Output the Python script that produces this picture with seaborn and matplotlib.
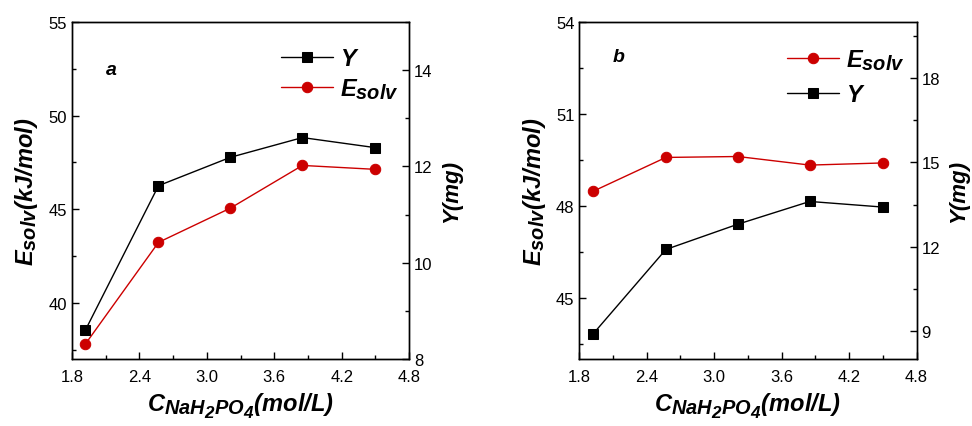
import matplotlib
matplotlib.use('Agg')
import matplotlib.pyplot as plt
import matplotlib._mathtext as mathtext_core
import numpy             as np
import pandas            as pd
import seaborn           as sns
from matplotlib.ticker import MultipleLocator, FormatStrFormatter

# Nong do NaH2PO4 (mol/L)
conc = [1.92, 2.57, 3.21, 3.85, 4.50]

# Panel a
esolv_a = [37.8, 43.23, 45.06, 47.34, 47.13]
yield_a = [8.60, 11.60, 12.19, 12.60, 12.39]

# Panel b
esolv_b = [48.47, 49.58, 49.61, 49.33, 49.40]
yield_b = [8.88, 11.90, 12.80, 13.61, 13.41]

RED   = '#CC0000'
BLACK = '#000000'

sns.set_style('ticks')
plt.rcParams['font.family'] = ['Liberation Sans', 'DejaVu Sans']
plt.rcParams['mathtext.fontset'] = 'custom'
plt.rcParams['mathtext.it'] = 'Liberation Sans:bold:italic'
plt.rcParams['mathtext.rm'] = 'Liberation Sans:bold:italic'
plt.rcParams['mathtext.bf'] = 'Liberation Sans:bold:italic'
for key in ('text.color', 'axes.labelcolor', 'xtick.color', 'ytick.color'):
    plt.rcParams[key] = 'black'
# chi so duoi lon hon (giong Origin)
mathtext_core.SHRINK_FACTOR = 0.85

fig = plt.figure(figsize = (9.72, 4.27), dpi = 100)
ax_a = fig.add_axes([0.074, 0.157, 0.347, 0.789])
ax_b = fig.add_axes([0.596, 0.157, 0.347, 0.789])

lab_font = dict(fontsize = 17, fontweight = 'bold', fontstyle = 'italic')


def panel(ax, esolv, yld, ylim_l, ylim_r, step_l, step_r, letter, lpos, order, lx, ly, lsp):
    ax2 = ax.twinx()
    df = pd.DataFrame({'c': conc, 'E': esolv, 'Y': yld})

    sns.lineplot(data = df, x = 'c', y = 'E', ax = ax, color = RED, marker = 'o',
                 markersize = 7.5, markeredgecolor = RED, linewidth = 1.0,
                 label = r'$E_{solv}$', legend = False)
    sns.lineplot(data = df, x = 'c', y = 'Y', ax = ax2, color = BLACK, marker = 's',
                 markersize = 7, markeredgecolor = BLACK, linewidth = 1.0,
                 label = 'Y', legend = False)

    ax.set_xlim(1.8, 4.8)
    ax.set_ylim(*ylim_l)
    ax2.set_ylim(*ylim_r)

    ax.xaxis.set_major_locator(MultipleLocator(0.6))
    ax.xaxis.set_minor_locator(MultipleLocator(0.3))
    ax.xaxis.set_major_formatter(FormatStrFormatter('%.1f'))
    ax.yaxis.set_major_locator(MultipleLocator(step_l))
    ax.yaxis.set_minor_locator(MultipleLocator(step_l / 2))
    ax2.yaxis.set_major_locator(MultipleLocator(step_r))
    ax2.yaxis.set_minor_locator(MultipleLocator(step_r / 2))

    ax.tick_params(which = 'both', direction = 'in', top = False, right = False,
                   labelsize = 12, width = 1, colors = 'black')
    ax.tick_params(which = 'major', length = 5)
    ax.tick_params(which = 'minor', length = 3)
    ax.tick_params(axis = 'x', pad = 7)
    ax2.tick_params(which = 'both', direction = 'in', labelsize = 12, width = 1,
                    colors = 'black')
    ax2.tick_params(which = 'major', length = 5)
    ax2.tick_params(which = 'minor', length = 3)
    for a in (ax, ax2):
        for s in a.spines.values():
            s.set_linewidth(1.0)
            s.set_color('black')

    ax.set_xlabel(r'$C_{NaH_2PO_4}$(mol/L)', labelpad = 5, **lab_font)
    ax.set_ylabel(r'$E_{solv}$(kJ/mol)', labelpad = 6, **lab_font)
    ax2.set_ylabel('Y(mg)', labelpad = 6, fontsize = 16, fontweight = 'bold',
                   fontstyle = 'italic')

    ax.text(lpos[0], lpos[1], letter, transform = ax.transAxes, fontsize = 14,
            fontweight = 'bold', fontstyle = 'italic')

    handles = {'E': ax.get_lines()[0], 'Y': ax2.get_lines()[0]}
    labels = {'E': r'$E_{solv}$', 'Y': 'Y'}
    ax2.legend([handles[k] for k in order], [labels[k] for k in order],
               loc = 'upper left', bbox_to_anchor = (lx, ly), frameon = False,
               handlelength = 2.2, handletextpad = 0.3, labelspacing = lsp,
               borderpad = 0, borderaxespad = 0, numpoints = 1,
               prop = dict(size = 17, weight = 'bold', style = 'italic'))
    return ax2


panel(ax_a, esolv_a, yield_a, (37, 55), (8, 15), 5, 2, 'a', (0.10, 0.845),
      ['Y', 'E'], 0.62, 0.925, 0.25)
panel(ax_b, esolv_b, yield_b, (43, 54), (8, 20), 3, 3, 'b', (0.10, 0.885),
      ['E', 'Y'], 0.615, 0.925, 0.45)

fig.savefig('out.png', dpi = 100)
